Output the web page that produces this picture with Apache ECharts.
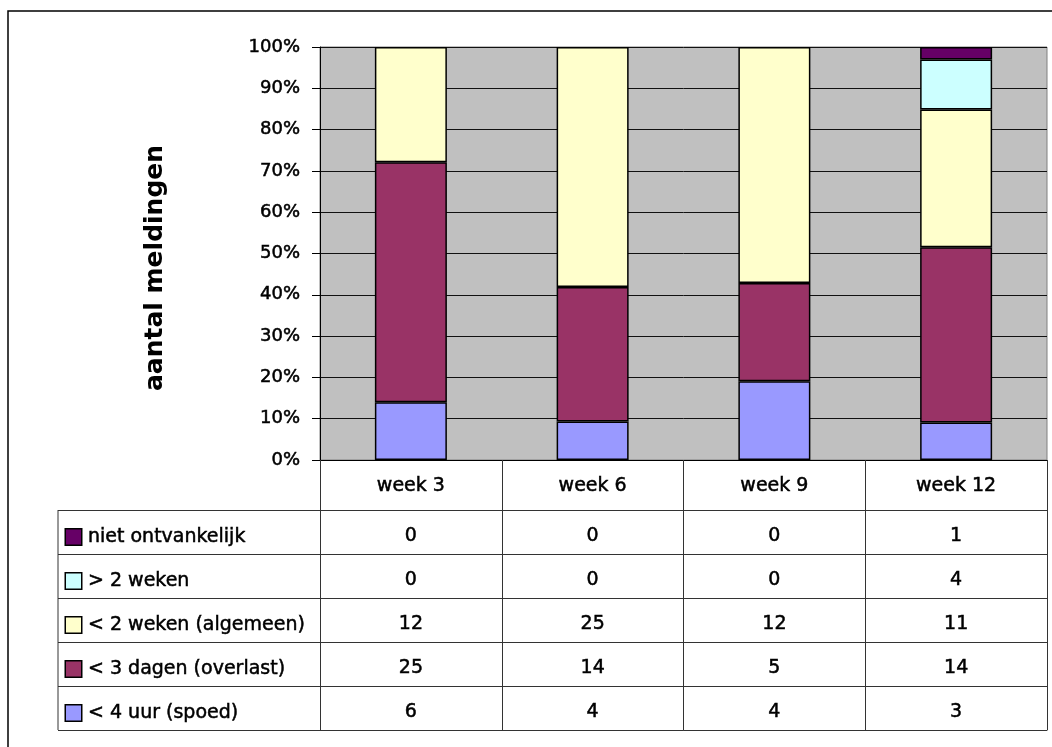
<!DOCTYPE html>
<html>
<head>
<meta charset="utf-8">
<script src="https://cdn.jsdelivr.net/npm/echarts@6/dist/echarts.min.js"></script>
<style>
  html, body { margin: 0; padding: 0; background: #fff; }
  #chart { width: 1052px; height: 747px; }
</style>
</head>
<body>
<div id="chart"></div>
<script>
// Weekly counts of reports per response-time category
const weeks = ['week 3', 'week 6', 'week 9', 'week 12'];
const spoed = [6, 4, 4, 3];
const overlast = [25, 14, 5, 14];
const algemeen = [12, 25, 12, 11];
const langer = [0, 0, 0, 4];
const nietOntvankelijk = [0, 0, 0, 1];

// Stack order, bottom to top (also table rows, bottom to top)
const categoryNames = ['< 4 uur (spoed)', '< 3 dagen (overlast)', '< 2 weken (algemeen)', '> 2 weken', 'niet ontvankelijk'];
const categoryColors = ['#9999FF', '#993366', '#FFFFCC', '#CCFFFF', '#660066'];
const counts = [spoed, overlast, algemeen, langer, nietOntvankelijk];

const totals = weeks.map((_, i) => counts.reduce((s, arr) => s + arr[i], 0));
// share of the week's total; empty categories get no segment
const percent = arr => arr.map((v, i) => (v === 0 ? '-' : v / totals[i] * 100));

const FONT = 'DejaVu Sans';
const LINE = '#333';
// slight stroke to give the regular face a medium weight
const heavy = { textBorderColor: '#000', textBorderWidth: 0.5 };

const barSeries = counts.map((arr, k) => ({
  name: categoryNames[k],
  type: 'bar',
  stack: 'share',
  xAxisIndex: 0,
  yAxisIndex: 0,
  barWidth: 72,
  data: percent(arr),
  itemStyle: { color: categoryColors[k], borderColor: '#000', borderWidth: 1.5 }
}));

// Data table cells: one labelled point per (week, category)
const cellData = [];
counts.forEach((arr, k) => arr.forEach((v, i) => cellData.push([weeks[i], categoryNames[k], v])));

const rich = {};
categoryColors.forEach((c, k) => {
  rich['k' + k] = { width: 15, height: 15, backgroundColor: c, borderColor: '#000', borderWidth: 1.5 };
});
rich.g = { width: 7 };
rich.t = Object.assign({ fontSize: 19, fontFamily: FONT, color: '#000' }, heavy);

const chart = echarts.init(document.getElementById('chart'), null, { renderer: 'canvas' });
chart.setOption({
  animation: false,
  backgroundColor: '#fff',
  grid: [
    { left: 320, right: 5, top: 47, bottom: 287, show: true, backgroundColor: '#C0C0C0', borderColor: '#808080', borderWidth: 1 },
    { left: 320, right: 5, top: 510, bottom: 17 }
  ],
  xAxis: [
    {
      type: 'category', gridIndex: 0, data: weeks,
      axisLine: { lineStyle: { color: '#000', width: 1 } },
      axisTick: { show: true, length: 270, lineStyle: { color: LINE, width: 1 } },
      axisLabel: Object.assign({ fontSize: 19, fontFamily: FONT, color: '#000', margin: 17 }, heavy)
    },
    {
      type: 'category', gridIndex: 1, data: weeks,
      axisLine: { show: true, lineStyle: { color: LINE, width: 1 } },
      axisTick: { show: false }, axisLabel: { show: false }
    }
  ],
  yAxis: [
    {
      type: 'value', gridIndex: 0, min: 0, max: 100, interval: 10,
      axisLine: { show: true, lineStyle: { color: '#000', width: 1 } },
      axisTick: { show: true, length: 8, lineStyle: { color: '#000' } },
      splitLine: { show: true, lineStyle: { color: '#111', width: 1 } },
      axisLabel: Object.assign({ formatter: '{value}%', fontSize: 18, fontFamily: FONT, color: '#000', margin: 20 }, heavy)
    },
    {
      type: 'category', gridIndex: 1, data: categoryNames,
      axisLine: { show: true, lineStyle: { color: LINE, width: 1 } },
      axisTick: { show: true, length: 262, lineStyle: { color: LINE, width: 1 } },
      splitLine: { show: true, lineStyle: { color: LINE, width: 1 } },
      axisLabel: {
        align: 'left', margin: 254, padding: [10, 0, 0, 0],
        formatter: (value, index) => '{k' + index + '|}{g|}{t|' + value + '}',
        rich: rich
      }
    }
  ],
  series: barSeries.concat([{
    type: 'scatter',
    xAxisIndex: 1, yAxisIndex: 1,
    symbolSize: 0,
    itemStyle: { opacity: 1 },
    data: cellData,
    label: Object.assign({
      show: true, position: 'inside', offset: [0, 4],
      formatter: p => String(p.value[2]),
      fontSize: 19, fontFamily: FONT, color: '#000'
    }, heavy),
    silent: true
  }]),
  graphic: [
    { type: 'rect', shape: { x: 8, y: 11, width: 1100, height: 800 }, style: { fill: 'none', stroke: '#000', lineWidth: 1.5 }, silent: true, z: -1 },
    { type: 'line', shape: { x1: 58, y1: 510, x2: 58, y2: 730 }, style: { stroke: LINE, lineWidth: 1 }, silent: true },
    {
      type: 'text', x: 155, y: 268, rotation: Math.PI / 2,
      style: { text: 'aantal meldingen', font: 'bold 25px "DejaVu Sans"', fill: '#000', align: 'center', verticalAlign: 'middle' }
    }
  ]
});
</script>
</body>
</html>
